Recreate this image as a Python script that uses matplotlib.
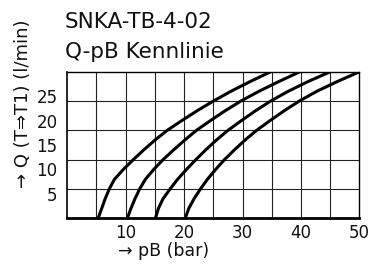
import matplotlib
matplotlib.use('Agg')
import matplotlib.pyplot as plt

# Q-pB Kennlinie, vier Kurven (Federstufen)
q = [0, 2, 4, 6, 8, 10, 12, 14, 16, 18, 20, 22, 24, 26, 28, 30]
pb1 = [5.3, 5.9, 6.5, 7.2, 8.1, 9.6, 11.3, 13.1, 15.0, 17.1, 19.6, 22.2, 25.0, 28.0, 31.3, 34.8]
pb2 = [10.3, 10.9, 11.6, 12.4, 13.4, 14.8, 16.4, 18.2, 20.1, 22.1, 24.5, 27.0, 29.7, 32.8, 36.2, 39.8]
pb3 = [15.1, 15.6, 16.4, 17.6, 18.9, 20.4, 22.0, 23.7, 25.5, 27.5, 29.8, 32.2, 34.8, 37.8, 41.2, 45.0]
pb4 = [20.2, 20.8, 21.7, 22.8, 24.0, 25.4, 26.9, 28.6, 30.4, 32.4, 34.7, 37.1, 39.7, 42.7, 46.2, 50.0]

x_ticks = [10, 20, 30, 40, 50]
y_ticks = [5, 10, 15, 20, 25]
x_grid = [5, 10, 15, 20, 25, 30, 35, 40, 45]
y_grid = [6, 12, 18, 24]

plt.rcParams['font.family'] = ['DejaVu Sans']

fig = plt.figure(figsize=(3.69, 2.64), dpi=100)
ax = fig.add_axes([0.182, 0.173, 0.792, 0.555])

for g in x_grid:
    ax.axvline(g, color='#222222', lw=0.8, zorder=1)
for g in y_grid:
    ax.axhline(g, color='#222222', lw=0.8, zorder=1)

for pb in (pb1, pb2, pb3, pb4):
    ax.plot(pb, q, color='black', lw=2.2, solid_capstyle='butt', zorder=3)

ax.set_xlim(0, 50)
ax.set_ylim(0, 30)
ax.set_xticks(x_ticks)
ax.set_yticks(y_ticks)
ax.tick_params(length=0, labelsize=12, colors='#111111')
ax.tick_params(axis='x', pad=4)
ax.tick_params(axis='y', pad=7)
for side in ('top', 'right'):
    ax.spines[side].set_linewidth(1.0)
ax.spines['left'].set_linewidth(1.2)
ax.spines['bottom'].set_linewidth(2.0)

ax.set_xlabel('→ pB (bar)', fontsize=12.5, loc='left', labelpad=1, color='#111111')
ax.xaxis.set_label_coords(0.175, -0.16)
ax.set_ylabel('→ Q (T⇒T1) (l/min)', fontsize=13, color='#111111')
ax.yaxis.set_label_coords(-0.12, 0.783)

fig.text(0.176, 0.894, 'SNKA-TB-4-02', fontsize=15.5, va='baseline', ha='left', color='#111111')
fig.text(0.176, 0.78, 'Q-pB Kennlinie', fontsize=15.5, va='baseline', ha='left', color='#111111')

fig.savefig('out.png', dpi=100)
